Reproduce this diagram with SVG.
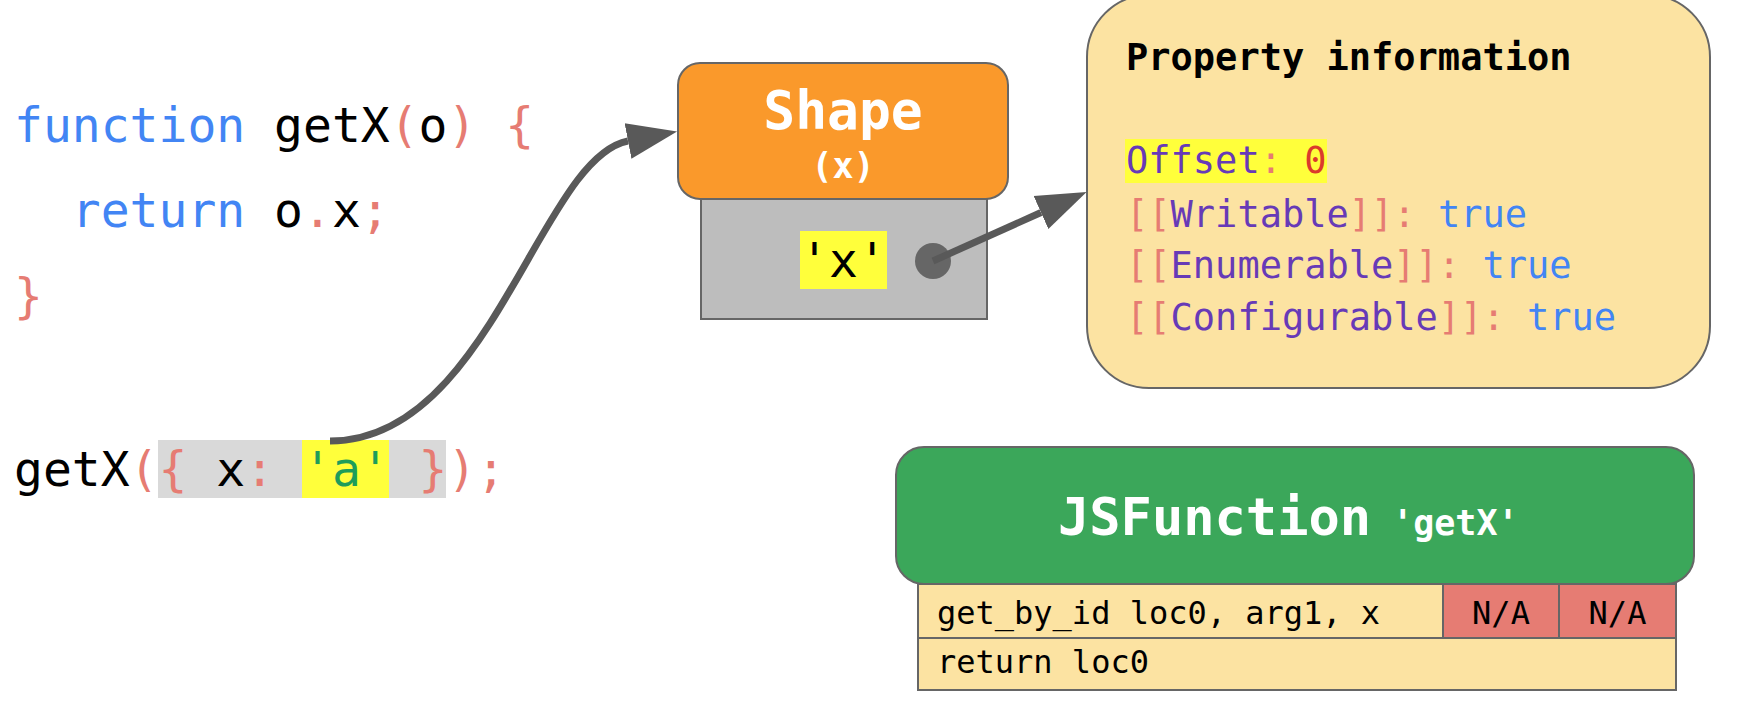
<svg xmlns="http://www.w3.org/2000/svg" width="1740" height="708" viewBox="0 0 1740 708">
  <style>
    .mono { font-family: "DejaVu Sans Mono", "Liberation Mono", monospace; white-space: pre; }
    .code { font-size: 48px; }
    .kw { fill: #4285f4; }
    .id { fill: #000000; }
    .pn { fill: #e67c73; }
    .str { fill: #1e9d5a; }
    .prop { fill: #673ab7; }
    .num { fill: #db3a2c; }
    .edge { stroke: #666666; stroke-width: 2; }
    .hl { fill: #ffff3b; }
    .conn { fill: none; stroke: #595959; stroke-width: 7; marker-end: url(#arrow); }
    .cell { fill: #fce3a2; stroke: #666666; stroke-width: 2; }
    .na { fill: #e67c73; stroke: #666666; stroke-width: 2; }
    .bc { font-size: 32px; fill: #000000; }
  </style>
  <defs>
    <marker id="arrow" markerUnits="userSpaceOnUse" markerWidth="52" markerHeight="38" viewBox="0 -19 52 38" refX="0" refY="0" orient="auto">
      <path d="M0,-18 L50,0 L0,18 Z" fill="#595959"/>
    </marker>
  </defs>

  <!-- source code -->
  <g id="code">
    <text class="mono code" x="14" y="142"><tspan class="kw">function</tspan><tspan class="id"> getX</tspan><tspan class="pn">(</tspan><tspan class="id">o</tspan><tspan class="pn">) {</tspan></text>
    <text class="mono code" x="14" y="227"><tspan class="kw">  return</tspan><tspan class="id"> o</tspan><tspan class="pn">.</tspan><tspan class="id">x</tspan><tspan class="pn">;</tspan></text>
    <text class="mono code pn" x="14" y="313">}</text>
  </g>

  <!-- call site with object literal -->
  <g id="call">
    <rect x="158" y="440" width="288" height="58" fill="#d9d9d9"/>
    <rect class="hl" x="302" y="440" width="87" height="58"/>
    <text class="mono code" x="14" y="486"><tspan class="id">getX</tspan><tspan class="pn">({</tspan><tspan class="id"> x</tspan><tspan class="pn">:</tspan><tspan class="str"> 'a'</tspan><tspan class="pn"> })</tspan><tspan class="pn">;</tspan></text>
  </g>

  <!-- Shape with its single property slot -->
  <g id="shape">
    <rect x="701" y="199" width="286" height="120" fill="#bdbdbd" class="edge"/>
    <rect x="678" y="63" width="330" height="136" rx="22" fill="#fa992b" class="edge"/>
    <text class="mono" x="843" y="129" text-anchor="middle" font-size="53" font-weight="bold" fill="#ffffff">Shape</text>
    <text class="mono" x="843" y="178" text-anchor="middle" font-size="35" font-weight="bold" fill="#ffffff">(x)</text>
    <rect class="hl" x="800" y="231" width="87" height="58"/>
    <text class="mono" x="800" y="277" font-size="48" fill="#000000">'x'</text>
    <circle cx="933" cy="261" r="18" fill="#666666"/>
  </g>

  <!-- property attributes -->
  <g id="property-info">
    <rect x="1087" y="-5" width="623" height="393" rx="62" fill="#fce3a2" class="edge"/>
    <text class="mono" x="1126" y="70" font-size="37" font-weight="bold" fill="#000000">Property information</text>
    <rect class="hl" x="1125" y="139" width="202" height="44"/>
    <g class="mono" font-size="37">
      <text x="1126" y="173"><tspan class="prop">Offset</tspan><tspan class="pn">:</tspan><tspan class="num"> 0</tspan></text>
      <text x="1126" y="227"><tspan class="pn">[[</tspan><tspan class="prop">Writable</tspan><tspan class="pn">]]:</tspan><tspan class="kw"> true</tspan></text>
      <text x="1126" y="278"><tspan class="pn">[[</tspan><tspan class="prop">Enumerable</tspan><tspan class="pn">]]:</tspan><tspan class="kw"> true</tspan></text>
      <text x="1126" y="330"><tspan class="pn">[[</tspan><tspan class="prop">Configurable</tspan><tspan class="pn">]]:</tspan><tspan class="kw"> true</tspan></text>
    </g>
  </g>

  <!-- function object and its bytecode -->
  <g id="jsfunction">
    <rect x="896" y="447" width="798" height="137" rx="28" fill="#3ba75a" class="edge"/>
    <text class="mono" x="1058" y="535" font-weight="bold" fill="#ffffff"><tspan font-size="52">JSFunction</tspan><tspan font-size="35"> 'getX'</tspan></text>
    <rect class="cell" x="918" y="584" width="758" height="54"/>
    <rect class="na" x="1443" y="584" width="116" height="54"/>
    <rect class="na" x="1559" y="584" width="117" height="54"/>
    <rect class="cell" x="918" y="638" width="758" height="52"/>
    <text class="mono bc" x="937" y="624">get_by_id loc0, arg1, x</text>
    <text class="mono bc" x="1501" y="624" text-anchor="middle">N/A</text>
    <text class="mono bc" x="1617.5" y="624" text-anchor="middle">N/A</text>
    <text class="mono bc" x="937" y="673">return loc0</text>
  </g>

  <!-- connectors -->
  <g id="connectors">
    <path class="conn" d="M330,441 C490,441 540,158 628,141"/>
    <path class="conn" d="M933,261 L1041,212.5"/>
  </g>
</svg>
